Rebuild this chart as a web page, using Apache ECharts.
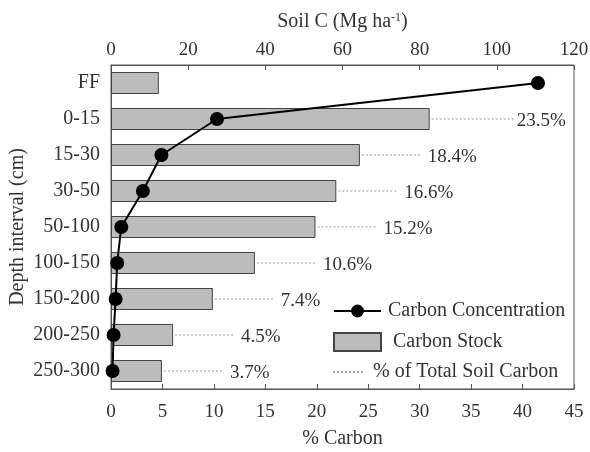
<!DOCTYPE html>
<html>
<head>
<meta charset="utf-8">
<script src="https://cdn.jsdelivr.net/npm/echarts@6/dist/echarts.min.js"></script>
<style>html,body{margin:0;padding:0;background:#fff}#c{width:590px;height:452px}</style>
</head>
<body>
<div id="c"></div>
<script>
const depths = ['FF', '0-15', '15-30', '30-50', '50-100', '100-150', '150-200', '200-250', '250-300'];
const carbonStock = [12.4, 82.6, 64.5, 58.4, 53.0, 37.3, 26.4, 16.1, 13.2];        // Mg ha-1 (top axis)
const carbonConc = [41.5, 10.3, 4.9, 3.1, 1.0, 0.6, 0.45, 0.25, 0.15];             // % Carbon (bottom axis)
const pctTotal = [null, '23.5%', '18.4%', '16.6%', '15.2%', '10.6%', '7.4%', '4.5%', '3.7%'];
const topTicks = [0, 120, 20];
const bottomTicks = [0, 45, 5];

const FONT = 'Liberation Serif';
const FS = 20;
const TXT = '#333';
const AX = '#555';

const pctData = [];
depths.forEach((d, i) => { if (pctTotal[i] !== null) pctData.push([carbonStock[i], i, pctTotal[i]]); });

const chart = echarts.init(document.getElementById('c'), null, {renderer: 'canvas'});
chart.setOption({
  animation: false,
  textStyle: {fontFamily: FONT, color: TXT},
  grid: {left: 111, right: 16, top: 65, bottom: 63, show: true, borderColor: AX, borderWidth: 1,
    outerBoundsMode: 'none', containLabel: false},
  xAxis: [
    {
      type: 'value', position: 'bottom', min: bottomTicks[0], max: bottomTicks[1], interval: bottomTicks[2],
      name: '% Carbon', nameLocation: 'middle', nameGap: 40, nameMoveOverlap: false,
      nameTextStyle: {fontFamily: FONT, fontSize: FS, color: TXT},
      axisLine: {show: true, lineStyle: {color: AX}},
      axisTick: {show: true, inside: true, length: 5, lineStyle: {color: AX}},
      axisLabel: {fontFamily: FONT, fontSize: 19, color: TXT, margin: 14},
      splitLine: {show: false}
    },
    {
      type: 'value', position: 'top', min: topTicks[0], max: topTicks[1], interval: topTicks[2],
      name: 'Soil C (Mg ha{sup|-1})', nameLocation: 'middle', nameGap: 33, nameMoveOverlap: false,
      nameTextStyle: {fontFamily: FONT, fontSize: FS, color: TXT,
        rich: {sup: {fontFamily: FONT, fontSize: 12, color: TXT, verticalAlign: 'top', padding: [0, 0, 8, 0]}}},
      axisLine: {show: true, lineStyle: {color: AX}},
      axisTick: {show: true, inside: true, length: 5, lineStyle: {color: AX}},
      axisLabel: {fontFamily: FONT, fontSize: 19, color: TXT, margin: 5},
      splitLine: {show: false}
    }
  ],
  yAxis: {
    type: 'category', data: depths, inverse: true,
    name: 'Depth interval (cm)', nameLocation: 'middle', nameGap: 83, nameMoveOverlap: false,
    nameTextStyle: {fontFamily: FONT, fontSize: FS, color: TXT},
    axisLine: {show: true, lineStyle: {color: AX}},
    axisTick: {show: false},
    axisLabel: {fontFamily: FONT, fontSize: FS, color: TXT, margin: 11}
  },
  legend: [
    {
      data: ['Carbon Concentration'], left: 333, top: 301, padding: 0, itemWidth: 47, itemHeight: 16, itemGap: 0,
      textStyle: {fontFamily: FONT, fontSize: FS, color: TXT, padding: [0, 0, 0, 2]}
    },
    {
      data: [{name: 'Carbon Stock', icon: 'rect'}], left: 333, top: 332, padding: 0, itemWidth: 47, itemHeight: 18, itemGap: 0,
      textStyle: {fontFamily: FONT, fontSize: FS, color: TXT, padding: [0, 0, 0, 7]}
    },
    {
      data: [{name: '% of Total Soil Carbon', icon: 'path://M0,0h2v2h-2zM4,0h2v2h-2zM8,0h2v2h-2zM12,0h2v2h-2zM16,0h2v2h-2zM20,0h2v2h-2zM24,0h2v2h-2zM28,0h2v2h-2z'}],
      left: 333, top: 362, padding: 0, itemWidth: 30, itemHeight: 2, itemGap: 0,
      textStyle: {fontFamily: FONT, fontSize: FS, color: TXT, padding: [0, 0, 0, 5]}
    }
  ],
  series: [
    {
      name: 'Carbon Stock', type: 'bar', xAxisIndex: 1, yAxisIndex: 0,
      data: carbonStock, barWidth: 22,
      itemStyle: {color: '#bcbcbc', borderColor: '#444', borderWidth: 1},
      z: 2
    },
    {
      name: '% of Total Soil Carbon', type: 'custom', xAxisIndex: 1, yAxisIndex: 0,
      data: pctData,
      itemStyle: {color: '#aaa'},
      renderItem: function (params, api) {
        const idx = api.value(1);
        const p = api.coord([api.value(0), idx]);
        const len = idx === 1 ? 86 : 60;
        const gap = idx === 1 ? 1 : 8;
        return {
          type: 'group',
          children: [
            {type: 'line', shape: {x1: p[0] + 2, y1: p[1], x2: p[0] + len, y2: p[1]},
              style: {stroke: '#999', lineWidth: 1, lineDash: [2, 2]}},
            {type: 'text', style: {text: pctData[params.dataIndex][2], x: p[0] + len + gap, y: p[1] + 2,
              verticalAlign: 'middle', align: 'left', font: '19px "' + FONT + '"', fill: TXT}}
          ]
        };
      },
      z: 3
    },
    {
      name: 'Carbon Concentration', type: 'line', xAxisIndex: 0, yAxisIndex: 0,
      data: carbonConc, symbol: 'circle', symbolSize: 14,
      lineStyle: {color: '#000', width: 2},
      itemStyle: {color: '#000'},
      z: 5
    }
  ]
});
</script>
</body>
</html>
